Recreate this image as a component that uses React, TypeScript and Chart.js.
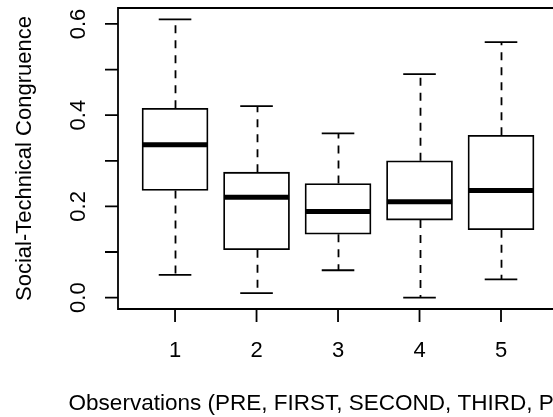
import React, { useEffect, useRef } from "react";
import { Chart, registerables } from "chart.js";

Chart.register(...registerables);

// ---- data ----
const categories = ["1", "2", "3", "4", "5"];
const whiskerLow = [0.05, 0.01, 0.06, 0.0, 0.04];
const q1 = [0.235, 0.105, 0.139, 0.17, 0.149];
const medians = [0.335, 0.22, 0.189, 0.21, 0.235];
const q3 = [0.415, 0.275, 0.25, 0.3, 0.356];
const whiskerHigh = [0.61, 0.42, 0.36, 0.49, 0.56];
const yTicks = [0, 0.1, 0.2, 0.3, 0.4, 0.5, 0.6];
const yLabelValues = [0, 0.2, 0.4, 0.6];
const yLabels = ["0.0", "0.2", "0.4", "0.6"];
const xTitle = "Observations (PRE, FIRST, SECOND, THIRD, POST)";
const yTitle = "Social-Technical Congruence";

const FONT = '22px "Liberation Sans", Arial, sans-serif';
const XTITLE_FONT = '22.5px "Liberation Sans", Arial, sans-serif';

const rPlotPlugin = {
  id: "rPlot",
  afterDatasetsDraw(chart: any) {
    const { ctx, chartArea, scales } = chart;
    const x = scales.x;
    const y = scales.y;
    ctx.save();
    ctx.strokeStyle = "#000";
    ctx.fillStyle = "#000";
    ctx.lineCap = "butt";

    // whiskers, caps, medians
    categories.forEach((_, i) => {
      const v = i + 1;
      const cx = Math.round(x.getPixelForValue(v)) + 0.5;
      const capL = x.getPixelForValue(v - 0.2);
      const capR = x.getPixelForValue(v + 0.2);
      const boxL = x.getPixelForValue(v - 0.4);
      const boxR = x.getPixelForValue(v + 0.4);

      ctx.lineWidth = 1.8;
      ctx.setLineDash([8, 7]);
      ctx.beginPath();
      ctx.moveTo(cx, y.getPixelForValue(q3[i]));
      ctx.lineTo(cx, y.getPixelForValue(whiskerHigh[i]));
      ctx.moveTo(cx, y.getPixelForValue(q1[i]));
      ctx.lineTo(cx, y.getPixelForValue(whiskerLow[i]));
      ctx.stroke();
      ctx.setLineDash([]);

      ctx.beginPath();
      ctx.moveTo(capL, y.getPixelForValue(whiskerHigh[i]));
      ctx.lineTo(capR, y.getPixelForValue(whiskerHigh[i]));
      ctx.moveTo(capL, y.getPixelForValue(whiskerLow[i]));
      ctx.lineTo(capR, y.getPixelForValue(whiskerLow[i]));
      ctx.stroke();

      ctx.lineWidth = 5;
      ctx.beginPath();
      ctx.moveTo(boxL, y.getPixelForValue(medians[i]));
      ctx.lineTo(boxR, y.getPixelForValue(medians[i]));
      ctx.stroke();
    });

    // frame
    ctx.lineWidth = 1.8;
    const l = chartArea.left;
    const t = chartArea.top;
    const b = chartArea.bottom;
    const r = x.getPixelForValue(5.7);
    ctx.beginPath();
    ctx.rect(l, t, r - l, b - t);
    ctx.stroke();

    // y ticks
    const tick = 13;
    ctx.beginPath();
    yTicks.forEach((v) => {
      const py = y.getPixelForValue(v);
      ctx.moveTo(l - tick, py);
      ctx.lineTo(l, py);
    });
    // x ticks
    categories.forEach((_, i) => {
      const px = x.getPixelForValue(i + 1);
      ctx.moveTo(px, b);
      ctx.lineTo(px, b + tick);
    });
    ctx.stroke();

    ctx.font = FONT;
    // x tick labels
    ctx.textAlign = "center";
    ctx.textBaseline = "middle";
    categories.forEach((c, i) => {
      ctx.fillText(c, x.getPixelForValue(i + 1), 351);
    });
    // y tick labels (rotated)
    yLabelValues.forEach((v, i) => {
      const py = y.getPixelForValue(v);
      ctx.save();
      ctx.translate(79, py);
      ctx.rotate(-Math.PI / 2);
      ctx.fillText(yLabels[i], 0, 0);
      ctx.restore();
    });
    // axis titles
    ctx.save();
    ctx.translate(25, (t + b) / 2);
    ctx.rotate(-Math.PI / 2);
    ctx.fillText(yTitle, 0, 0);
    ctx.restore();
    ctx.font = XTITLE_FONT;
    ctx.fillText(xTitle, (l + r) / 2, 404);

    ctx.restore();
  },
};

export default function App() {
  const ref = useRef<HTMLCanvasElement>(null);
  useEffect(() => {
    if (!ref.current) return;
    const chart = new Chart(ref.current, {
      type: "bar",
      data: {
        datasets: [
          {
            data: categories.map((_, i) => ({ x: i + 1, y: [q1[i], q3[i]] })) as any,
            backgroundColor: "#ffffff",
            borderColor: "#000000",
            borderWidth: 1.8,
            borderSkipped: false,
            barThickness: 66,
          },
        ],
      },
      options: {
        responsive: false,
        animation: false,
        devicePixelRatio: 1,
        layout: { padding: { left: 118, top: 8, right: 0, bottom: 108 } },
        plugins: { legend: { display: false }, tooltip: { enabled: false } },
        scales: {
          x: { type: "linear", min: 0.3, max: 5.638, display: false, offset: false },
          y: { type: "linear", min: -0.025, max: 0.635, display: false },
        },
      },
      plugins: [rPlotPlugin],
    });
    return () => chart.destroy();
  }, []);
  return (
    <div style={{ position: "fixed", left: 0, top: 0, width: 553, height: 417, background: "#fff" }}>
      <canvas ref={ref} width={553} height={417} />
    </div>
  );
}
